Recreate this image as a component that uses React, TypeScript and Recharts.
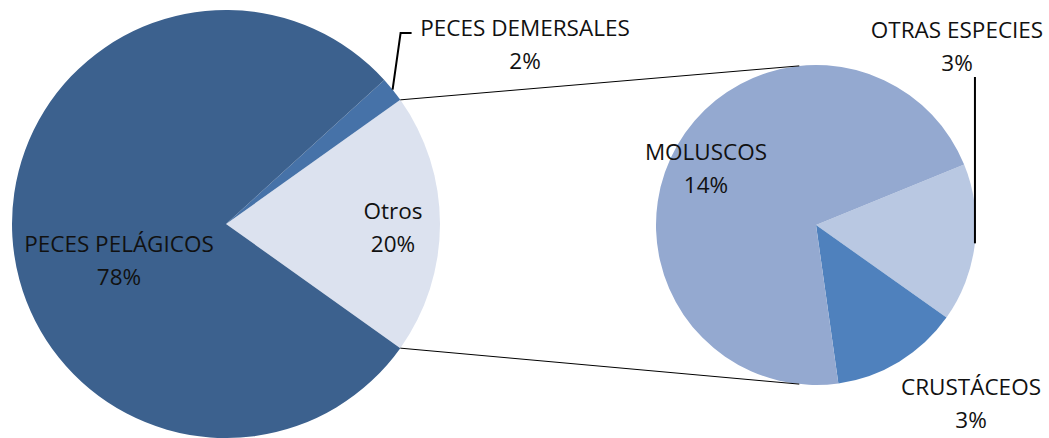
import React from "react";
import { PieChart, Pie, Cell } from "recharts";

// main pie: share of total catch (%)
const mainNames = ["Otros", "PECES DEMERSALES", "PECES PELÁGICOS"];
const mainValues = [19.7, 1.9, 78.4];
const mainColors = ["#DCE2EF", "#4672A8", "#3C618E"];

// breakdown of "Otros"
const subNames = ["OTRAS ESPECIES", "CRUSTÁCEOS", "MOLUSCOS"];
const subValues = [3.15, 2.55, 14.0];
const subColors = ["#B9C8E2", "#4F81BD", "#94A9D0"];

const mainData = mainNames.map((name, i) => ({ name, value: mainValues[i] }));
const subData = subNames.map((name, i) => ({ name, value: subValues[i] }));

const W = 1049;
const H = 438;
const FONT = "'Open Sans', sans-serif";
const FS = 22.5;
const LINE_GAP = 33;

const M = { cx: 226, cy: 224, r: 214 };
const S = { cx: 816, cy: 225, r: 160 };

// Otros slice spans symmetric around 0deg
const otrosHalf = (mainValues[0] / mainValues.reduce((a, b) => a + b, 0)) * 180;
const subStart = 22.2;

// label anchor (centre x, first baseline)
const labelPos: Record<string, { x: number; y: number }> = {
  "PECES PELÁGICOS": { x: 119, y: 252 },
  "PECES DEMERSALES": { x: 525, y: 36 },
  Otros: { x: 393, y: 219 },
  MOLUSCOS: { x: 706, y: 160 },
  "OTRAS ESPECIES": { x: 957, y: 38 },
  "CRUSTÁCEOS": { x: 971, y: 395 },
};

const RAD = Math.PI / 180;

const renderLabel = (props: any) => {
  const { cx, cy, midAngle, outerRadius, name, value } = props;
  const p = labelPos[name];
  if (!p) return null;
  const ex = cx + outerRadius * Math.cos(-midAngle * RAD);
  const ey = cy + outerRadius * Math.sin(-midAngle * RAD);
  let leader = null;
  if (name === "PECES DEMERSALES") {
    leader = (
      <polyline
        points={`${ex},${ey} ${ex + 8},${p.y - 3} ${ex + 19},${p.y - 3}`}
        fill="none"
        stroke="#000"
        strokeWidth={2}
      />
    );
  } else if (name === "OTRAS ESPECIES") {
    leader = (
      <line x1={ex} y1={ey} x2={ex} y2={p.y + 39} stroke="#000" strokeWidth={2} />
    );
  }
  return (
    <g>
      {leader}
      <text x={p.x} y={p.y} textAnchor="middle" fontFamily={FONT} fontSize={FS} fill="#111">
        {name}
      </text>
      <text x={p.x} y={p.y + LINE_GAP} textAnchor="middle" fontFamily={FONT} fontSize={FS} fill="#111">
        {Math.round(value)}%
      </text>
    </g>
  );
};

const App = () => {
  const a1 = otrosHalf * RAD;
  const top1 = { x: M.cx + M.r * Math.cos(a1), y: M.cy - M.r * Math.sin(a1) };
  const bot1 = { x: M.cx + M.r * Math.cos(a1), y: M.cy + M.r * Math.sin(a1) };
  const a2 = 96 * RAD;
  const top2 = { x: S.cx + S.r * Math.cos(a2), y: S.cy - S.r * Math.sin(a2) };
  const bot2 = { x: S.cx + S.r * Math.cos(a2), y: S.cy + S.r * Math.sin(a2) };

  return (
    <div style={{ position: "absolute", left: 0, top: 0, width: W, height: H, background: "#fff" }}>
      <PieChart width={W} height={H} margin={{ top: 0, right: 0, bottom: 0, left: 0 }}>
        <Pie
          data={mainData}
          dataKey="value"
          nameKey="name"
          cx={M.cx}
          cy={M.cy}
          outerRadius={M.r}
          startAngle={-otrosHalf}
          endAngle={360 - otrosHalf}
          stroke="none"
          label={renderLabel}
          labelLine={false}
          isAnimationActive={false}
        >
          {mainData.map((d, i) => (
            <Cell key={d.name} fill={mainColors[i]} />
          ))}
        </Pie>
        <Pie
          data={subData}
          dataKey="value"
          nameKey="name"
          cx={S.cx}
          cy={S.cy}
          outerRadius={S.r}
          startAngle={subStart}
          endAngle={subStart - 360}
          stroke="none"
          label={renderLabel}
          labelLine={false}
          isAnimationActive={false}
        >
          {subData.map((d, i) => (
            <Cell key={d.name} fill={subColors[i]} />
          ))}
        </Pie>
      </PieChart>
      <svg
        width={W}
        height={H}
        style={{ position: "absolute", left: 0, top: 0, pointerEvents: "none" }}
      >
        <line x1={top1.x} y1={top1.y} x2={top2.x} y2={top2.y} stroke="#000" strokeWidth={1} />
        <line x1={bot1.x} y1={bot1.y} x2={bot2.x} y2={bot2.y} stroke="#000" strokeWidth={1} />
      </svg>
    </div>
  );
};

export default App;
